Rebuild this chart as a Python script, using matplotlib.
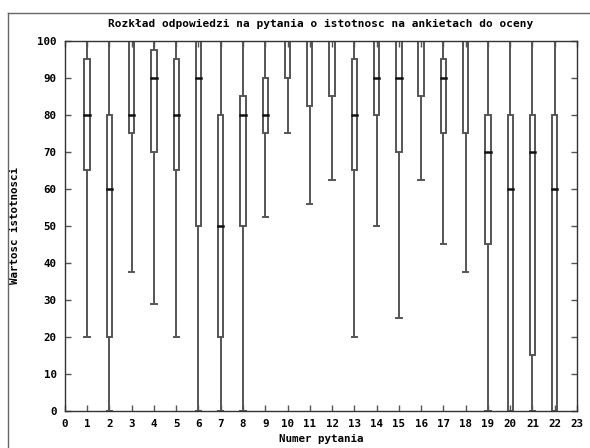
import matplotlib.pyplot as plt
from matplotlib.lines import Line2D

# question numbers and the five-number summary for each
questions = list(range(1, 23))
mins    = [20, 0, 37.5, 29, 20, 0, 0, 0, 52.5, 75, 56, 62.5, 20, 50, 25, 62.5, 45, 37.5, 0, 0, 0, 0]
q1s     = [65, 20, 75, 70, 65, 50, 20, 50, 75, 90, 82.5, 85, 65, 80, 70, 85, 75, 75, 45, 0, 15, 0]
medians = [80, 60, 80, 90, 80, 90, 50, 80, 80, 100, 100, 100, 80, 90, 90, 100, 90, 100, 70, 60, 70, 60]
q3s     = [95, 80, 100, 97.5, 95, 100, 80, 85, 90, 100, 100, 100, 95, 100, 100, 100, 95, 100, 80, 80, 80, 80]
maxs    = [100] * 22

title = "Rozkład odpowiedzi na pytania o istotnosc na ankietach do oceny"
xlabel = "Numer pytania"
ylabel = "Wartosc istotnosci"

plt.rcParams['font.family'] = ['DejaVu Sans Mono']
plt.rcParams['font.weight'] = 'bold'
plt.rcParams['font.size'] = 7.8

fig = plt.figure(figsize=(5.9, 4.48), dpi=100)
ax = fig.add_axes([0.110, 0.0826, 0.868, 0.826])

gray = '#555555'
w = 0.12
cw = 0.12
for x, lo, a, m, b, hi in zip(questions, mins, q1s, medians, q3s, maxs):
    ax.plot([x, x], [lo, a], color=gray, lw=1.4, solid_capstyle='butt')
    ax.plot([x, x], [b, hi], color=gray, lw=1.4, solid_capstyle='butt')
    ax.plot([x - cw, x + cw], [lo, lo], color=gray, lw=1.4)
    ax.plot([x - cw, x + cw], [hi, hi], color=gray, lw=1.4)
    ax.add_patch(plt.Rectangle((x - w, a), 2 * w, b - a, fill=False,
                               edgecolor=gray, lw=1.4))
    if m < 100:
        ax.plot([x - w, x + w], [m, m], color='#111111', lw=1.8)

ax.set_xlim(0, 23)
ax.set_ylim(0, 100)
ax.set_xticks(range(0, 24))
ax.set_yticks(range(0, 101, 10))
ax.tick_params(direction='in', length=4, width=1, color=gray,
               top=True, right=True, labeltop=False, labelright=False,
               pad=6, labelsize=7.8)
for s in ax.spines.values():
    s.set_color('#333333')
    s.set_linewidth(1)

ax.set_title(title, fontsize=8, fontweight='bold', pad=10)
ax.set_xlabel(xlabel, fontsize=7.8, fontweight='bold', labelpad=3)
ax.set_ylabel(ylabel, fontsize=7.8, fontweight='bold', labelpad=12)

# thin frame on the left and top of the picture
fig.add_artist(Line2D([7.5 / 590, 7.5 / 590], [0, 1 - 13 / 448], color='#666666', lw=1))
fig.add_artist(Line2D([7.5 / 590, 1], [1 - 13 / 448, 1 - 13 / 448], color='#666666', lw=1))

fig.savefig('out.png', dpi=100)
